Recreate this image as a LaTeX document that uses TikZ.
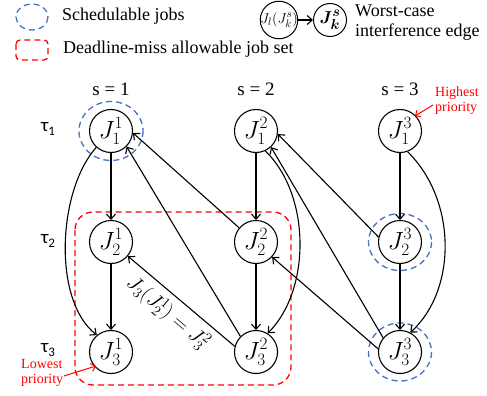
\documentclass[tikz,border=0pt]{standalone}
\usepackage{amsmath}
\usepackage{bm}
\usepackage{fontspec}
\setmainfont{Liberation Serif}
\newfontfamily\carl{Carlito}
\usetikzlibrary{arrows.meta}
\definecolor{schedblue}{HTML}{4472C4}
\definecolor{missred}{HTML}{FF0000}
\tikzset{
  job/.style={draw, circle, line width=1.1pt, minimum size=43pt, inner sep=0pt, font=\fontsize{23}{23}\selectfont},
  smalljob/.style={draw, circle, line width=1pt, minimum size=33pt, inner sep=0pt},
  edge/.style={line width=1.1pt, -{Straight Barb[length=5pt,width=9pt,line width=1.1pt]}},
  sched/.style={draw=schedblue, dashed, dash pattern=on 6pt off 4pt, line width=1.3pt},
  miss/.style={draw=missred, dash pattern=on 6pt off 4pt, line width=1.3pt},
  lbl/.style={font=\fontsize{18}{20}\selectfont, inner sep=0pt},
  tau/.style={font=\carl\fontsize{19}{20}\selectfont, inner sep=0pt},
  note/.style={text=missred, font=\fontsize{14}{15}\selectfont, align=left, inner sep=0pt},
  notearrow/.style={draw=missred, line width=1pt, -{Straight Barb[length=4pt,width=8pt,line width=1pt]}}
}
\begin{document}
\begin{tikzpicture}[x=1pt, y=-1pt]
\useasboundingbox (0,0) rectangle (487,396);

% legend
\draw[sched] (32,17) ellipse [x radius=16, y radius=13];
\node[lbl, anchor=west] (lg1) at (62,16) {Schedulable jobs};
\draw[miss, rounded corners=4pt] (16,40) rectangle (48,60);
\node[lbl, anchor=west] (lg2) at (63,49) {Deadline-miss allowable job set};
\node[smalljob, font=\fontsize{15}{15}\selectfont] (la) at (279,20) {$\mkern-2mu J_l(J_k^s)\mkern-2mu$};
\node[smalljob, font=\fontsize{19}{19}\selectfont] (lb) at (330,20) {$\bm{J_k^s}$};
\draw[edge] (la) -- (lb);
\node[lbl, anchor=west, align=left] (lg3) at (355,23) {Worst-case\\interference edge};

% column titles
\node[lbl, font=\fontsize{19}{20}\selectfont] (s1) at (111,89) {s = 1};
\node[lbl, font=\fontsize{19}{20}\selectfont] (s2) at (256,89) {s = 2};
\node[lbl, font=\fontsize{19}{20}\selectfont] (s3) at (400,89) {s = 3};

% task labels
\node[tau] (t1) at (48,129) {τ\raisebox{-0.35ex}{\fontsize{13}{13}\selectfont 1}};
\node[tau] (t2) at (48,241) {τ\raisebox{-0.35ex}{\fontsize{13}{13}\selectfont 2}};
\node[tau] (t3) at (48,350) {τ\raisebox{-0.35ex}{\fontsize{13}{13}\selectfont 3}};

% red set
\draw[miss, rounded corners=18pt] (75,212) rectangle (291,385);

% jobs
\node[job] (J11) at (111,131) {$J_1^1$};
\node[job] (J12) at (256,131) {$J_1^2$};
\node[job] (J13) at (400,131) {$J_1^3$};
\node[job] (J21) at (111,242) {$J_2^1$};
\node[job] (J22) at (256,242) {$J_2^2$};
\node[job] (J23) at (400,242) {$J_2^3$};
\node[job] (J31) at (111,352) {$J_3^1$};
\node[job] (J32) at (256,352) {$J_3^2$};
\node[job] (J33) at (400,352) {$J_3^3$};

% schedulable
\draw[sched] (J11.center) ellipse [x radius=32, y radius=29.5];
\draw[sched] (J23.center) ellipse [x radius=31.5, y radius=28.5];
\draw[sched] (J33.center) ellipse [x radius=31.5, y radius=29];

% intra-column edges
\draw[edge] (J11) -- (J21);
\draw[edge] (J21) -- (J31);
\draw[edge] (J12) -- (J22);
\draw[edge] (J22) -- (J32);
\draw[edge] (J13) -- (J23);
\draw[edge] (J23) -- (J33);
\draw[edge] (J11.228) .. controls (58,190) and (52,300) .. (J31.130);
\draw[edge] (J12.295) .. controls (311,195) and (311,290) .. (J32.58);
\draw[edge] (J13.290) .. controls (457,200) and (457,290) .. (J33.62);

% interference edges
\draw[edge] (J22.140) -- (J11.355);
\draw[edge] (J32.135) -- (J11.315);
\draw[edge] (J32.165) -- node[sloped, below=6pt, pos=0.52, font=\fontsize{21}{21}\selectfont, inner sep=0pt] (elab) {$J_3(J_2^1) = J_3^2$} (J21.320);
\draw[edge] (J23.167) -- (J12.352);
\draw[edge] (J33.140) -- (J12.313);
\draw[edge] (J33.172) -- (J22.317);

% priority notes
\node[note, anchor=west] (hi) at (435,101) {Highest\\priority};
\draw[notearrow] (433,105) -- (415,116);
\node[note, anchor=west] (lo) at (21,373) {Lowest\\priority};
\draw[notearrow] (64,376) -- (96,366);
\end{tikzpicture}
\end{document}
